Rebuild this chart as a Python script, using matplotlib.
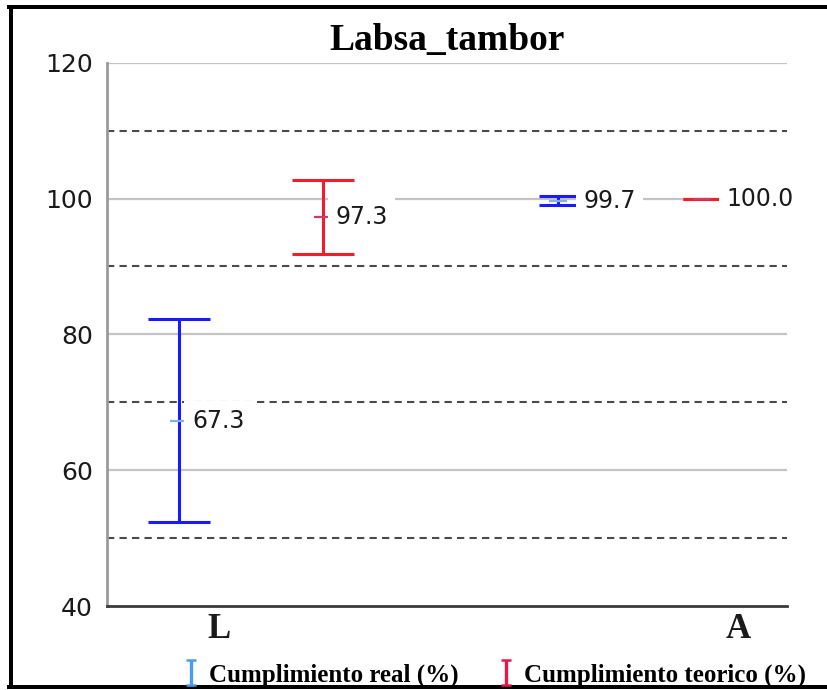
import numpy as np
import matplotlib
matplotlib.use('Agg')
import matplotlib.pyplot as plt
from matplotlib.lines import Line2D


# Data
categories = ['L', 'A']
real_mean = [67.3, 99.7]
real_err = [15.0, 0.7]
teo_mean = [97.3, 100.0]
teo_err = [5.5, 0.0]
real_label = 'Cumplimiento real (%)'
teo_label = 'Cumplimiento teorico (%)'
title = 'Labsa_tambor'

# Layout
xpos = np.arange(len(categories))
shift = 0.189
cap_sizes = [22, 14]           # caps are narrower for the second group
label_offsets = [9, 18]        # points right of the bar
tick_pos = [-0.084, 1.285]

fig = plt.figure(figsize=(8.28, 6.9), dpi=100)
ax = fig.add_axes([0.1292, 0.1217, 0.8213, 0.7874])

# grid lines: solid at 60/80/100/120, dashed at 50/70/90/110
for y in [60, 80, 100, 120]:
    ax.axhline(y, color='#c4c4c4', lw=1.6, zorder=1)
for y in [50, 70, 90, 110]:
    ax.axhline(y, color='#4a4a4a', lw=1.5, ls=(0, (3.5, 2.5)), zorder=1)

# error bars
for i in range(len(categories)):
    ax.errorbar(xpos[i] - shift, real_mean[i], yerr=real_err[i], fmt='none',
                ecolor='#1a1aff', elinewidth=2.2, capsize=cap_sizes[i],
                capthick=2.2, zorder=3)
    ax.errorbar(xpos[i] + shift, teo_mean[i], yerr=teo_err[i], fmt='none',
                ecolor='#f01e2a', elinewidth=2.2, capsize=cap_sizes[i],
                capthick=2.2, zorder=3)

# mean markers
ax.plot(xpos - shift, real_mean, ls='none', marker='_', ms=13, mew=1.6,
        color='#7fb0e6', zorder=4)
ax.plot(xpos + shift, teo_mean, ls='none', marker='_', ms=13, mew=1.6,
        color='#d03a6a', zorder=4)

# value labels
for i in range(len(categories)):
    for xx, v in [(xpos[i] - shift, real_mean[i]), (xpos[i] + shift, teo_mean[i])]:
        ax.annotate(f'{v:.1f}', (xx, v), xytext=(label_offsets[i], 0),
                    textcoords='offset points', ha='left', va='center',
                    fontsize=17, color='#1a1a1a', family='DejaVu Sans',
                    bbox=dict(boxstyle='square,pad=0.32', fc='white', ec='none'),
                    zorder=5)

ax.set_xlim(-0.380, 1.414)
ax.set_ylim(40, 120)
ax.set_yticks([40, 60, 80, 100, 120])
ax.set_xticks(tick_pos)
ax.set_xticklabels(categories, family='Liberation Serif', fontweight='bold',
                   fontsize=25)
ax.tick_params(axis='both', length=0, colors='#1a1a1a')
ax.tick_params(axis='y', labelsize=18, pad=10)
ax.tick_params(axis='x', pad=5)

for s in ['top', 'right']:
    ax.spines[s].set_visible(False)
ax.spines['left'].set_color('#9a9a9a')
ax.spines['left'].set_linewidth(2)
ax.spines['bottom'].set_color('#3a3a3a')
ax.spines['bottom'].set_linewidth(2)

ax.set_title(title, family='Liberation Serif', fontweight='bold', fontsize=27,
             pad=9)

# legend with error bar handles
h1 = ax.errorbar([np.nan], [np.nan], yerr=[1], fmt='none', ecolor='#4a9cf2',
                 elinewidth=2.4, capsize=3.5, capthick=1.8, label=real_label)
h2 = ax.errorbar([np.nan], [np.nan], yerr=[1], fmt='none', ecolor='#e8164a',
                 elinewidth=2.4, capsize=3.5, capthick=1.8, label=teo_label)
fig.legend(handles=[h1, h2], loc='center right', bbox_to_anchor=(0.985, 0.022),
           ncol=2, frameon=False, handlelength=0.6, handleheight=0.6,
           handletextpad=0.4, columnspacing=1.6, borderaxespad=0,
           prop={'family': 'Liberation Serif', 'weight': 'bold', 'size': 18})

# frame around the picture (left, top, bottom)
W, H = 828, 690
lw = 4 * 72 / 100
fig.add_artist(Line2D([11 / W, 11 / W], [1 - 7 / H, 1 - 687 / H],
                      transform=fig.transFigure, color='black', lw=lw))
fig.add_artist(Line2D([9 / W, 1.0], [1 - 7 / H, 1 - 7 / H],
                      transform=fig.transFigure, color='black', lw=lw))
fig.add_artist(Line2D([9 / W, 1.0], [1 - 687 / H, 1 - 687 / H],
                      transform=fig.transFigure, color='black', lw=lw))

fig.savefig('out.png', dpi=100, facecolor='white')
